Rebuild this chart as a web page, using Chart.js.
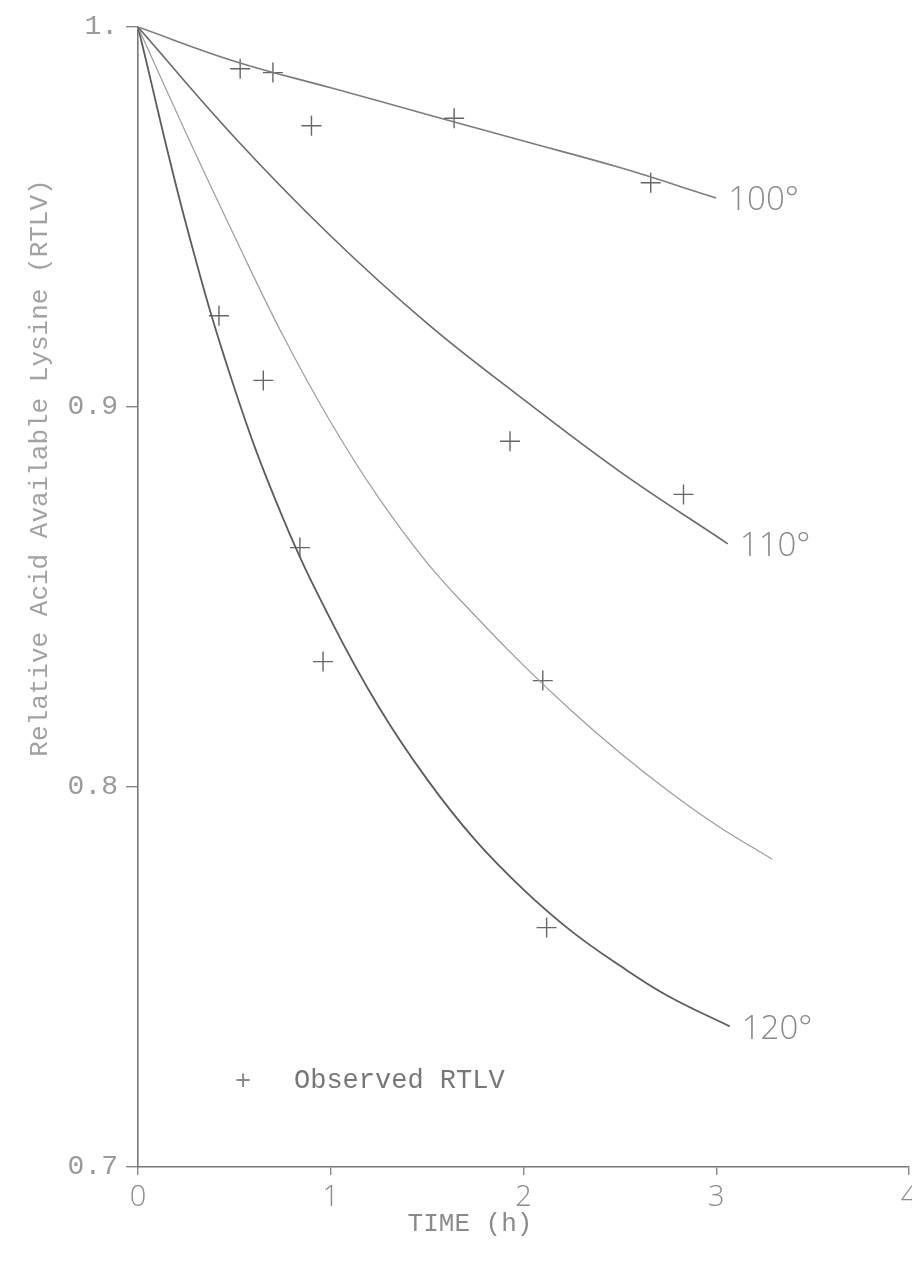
<!DOCTYPE html>
<html>
<head>
<meta charset="utf-8">
<script src="https://cdn.jsdelivr.net/npm/chart.js@4.4.1/dist/chart.umd.min.js"></script>
<style>
  html, body { margin: 0; padding: 0; background: #ffffff; }
  #wrap { width: 912px; height: 1278px; position: relative; }
</style>
</head>
<body>
<div id="wrap"><canvas id="c" width="912" height="1278"></canvas></div>
<script>
// ---- data ----
const curveLabels = ['100°', '110°', '', '120°'];

const c100T = [0, 0.5, 1.0, 1.5, 2.0, 2.5, 3.0];
const c100V = [1.000, 0.991, 0.984, 0.977, 0.970, 0.963, 0.955];

const c110T = [0, 0.5, 1.0, 1.5, 2.0, 2.5, 3.06];
const c110V = [1.000, 0.971, 0.945, 0.922, 0.902, 0.883, 0.864];

const c115T = [0, 0.25, 0.5, 0.75, 1.0, 1.25, 1.5, 1.75, 2.0, 2.25, 2.5, 2.75, 3.0, 3.29];
const c115V = [1.000, 0.972, 0.945, 0.919, 0.896, 0.876, 0.859, 0.845, 0.832, 0.820, 0.809, 0.799, 0.790, 0.781];

const c120T = [0, 0.25, 0.5, 0.75, 1.0, 1.25, 1.5, 1.75, 2.0, 2.25, 2.5, 2.75, 3.07];
const c120V = [1.000, 0.948, 0.905, 0.871, 0.844, 0.821, 0.802, 0.786, 0.773, 0.762, 0.753, 0.745, 0.737];

const obsT = [0.53, 0.70, 0.90, 1.64, 2.66, 1.93, 2.83, 2.10, 0.42, 0.65, 0.84, 0.96, 2.12];
const obsV = [0.989, 0.988, 0.974, 0.976, 0.959, 0.891, 0.877, 0.828, 0.924, 0.907, 0.863, 0.833, 0.763];

const xTickLabels = ['0', '1', '2', '3', '4'];
const yTickLabels = ['0.7', '0.8', '0.9', '1.'];

const xTitle = 'TIME (h)';
const yTitle = 'Relative Acid Available Lysine (RTLV)';
const legendText = 'Observed RTLV';

// ---- build ----
function pts(ts, vs) { return ts.map((t, i) => ({ x: t, y: vs[i] })); }

const curveStyles = [
  { color: '#7c7c7c', width: 1.6 },
  { color: '#6a6a6a', width: 1.6 },
  { color: '#9c9c9c', width: 1.2 },
  { color: '#5c5c5c', width: 1.8 }
];
const curves = [pts(c100T, c100V), pts(c110T, c110V), pts(c115T, c115V), pts(c120T, c120V)];

const datasets = curves.map((d, i) => ({
  type: 'line',
  data: d,
  borderColor: curveStyles[i].color,
  borderWidth: curveStyles[i].width,
  pointRadius: 0,
  fill: false,
  tension: 0.4
}));
datasets.push({
  type: 'scatter',
  data: pts(obsT, obsV),
  pointStyle: 'cross',
  pointRadius: 10,
  borderColor: '#666',
  borderWidth: 1.4,
  showLine: false
});

const annot = {
  id: 'annot',
  afterDraw(chart) {
    const ctx = chart.ctx;
    const xs = chart.scales.x, ys = chart.scales.y;
    ctx.save();
    // curve end labels
    ctx.fillStyle = '#8a8a8a';
    ctx.font = '300 33px "Open Sans", Lato, sans-serif';
    ctx.textBaseline = 'middle';
    ctx.textAlign = 'left';
    curves.forEach((d, i) => {
      if (!curveLabels[i]) return;
      const last = d[d.length - 1];
      ctx.fillText(curveLabels[i], xs.getPixelForValue(last.x) + 12, ys.getPixelForValue(last.y) + 3);
    });
    // x title
    ctx.fillStyle = '#8a8a8a';
    ctx.font = '26px "Liberation Mono", monospace';
    ctx.textAlign = 'center';
    ctx.fillText(xTitle, 470, 1224);
    // y title
    ctx.save();
    ctx.translate(40, 468);
    ctx.rotate(-Math.PI / 2);
    ctx.fillStyle = '#a2a2a2';
    ctx.font = '26px "Liberation Mono", monospace';
    ctx.textAlign = 'center';
    ctx.fillText(yTitle, 0, 0);
    ctx.restore();
    // legend
    ctx.fillStyle = '#8a8a8a';
    ctx.font = '27px "Liberation Mono", monospace';
    ctx.textAlign = 'left';
    ctx.fillText('+', 235, 1082);
    ctx.fillStyle = '#777';
    ctx.fillText(legendText, 294, 1081);
    ctx.restore();
  }
};

new Chart(document.getElementById('c'), {
  type: 'scatter',
  data: { datasets },
  options: {
    responsive: false,
    animation: false,
    layout: { padding: { top: 27, right: 3, left: 0, bottom: 0 }, autoPadding: false },
    plugins: { legend: { display: false }, tooltip: { enabled: false } },
    scales: {
      x: {
        type: 'linear',
        min: 0, max: 4,
        afterFit(s) { s.height = 111; s.paddingRight = 0; s.paddingLeft = 0; },
        ticks: {
          stepSize: 1,
          padding: 5,
          color: '#8c8c8c',
          font: { family: '"Open Sans", Lato, sans-serif', size: 29, weight: 300 },
          callback: (v) => xTickLabels[Math.round(v)]
        },
        grid: { drawOnChartArea: false, tickLength: 8, color: '#888', lineWidth: 1.4 },
        border: { color: '#777', width: 1.6 }
      },
      y: {
        type: 'linear',
        min: 0.7, max: 1.0,
        afterFit(s) { s.width = 138; s.paddingTop = 0; s.paddingBottom = 0; },
        ticks: {
          stepSize: 0.1,
          padding: 8,
          color: '#9a9a9a',
          font: { family: '"Liberation Mono", monospace', size: 28 },
          callback: (v) => yTickLabels[Math.round((v - 0.7) * 10)]
        },
        grid: { drawOnChartArea: false, tickLength: 12, color: '#888', lineWidth: 1.4 },
        border: { color: '#777', width: 1.6 }
      }
    }
  },
  plugins: [annot]
});
</script>
</body>
</html>
